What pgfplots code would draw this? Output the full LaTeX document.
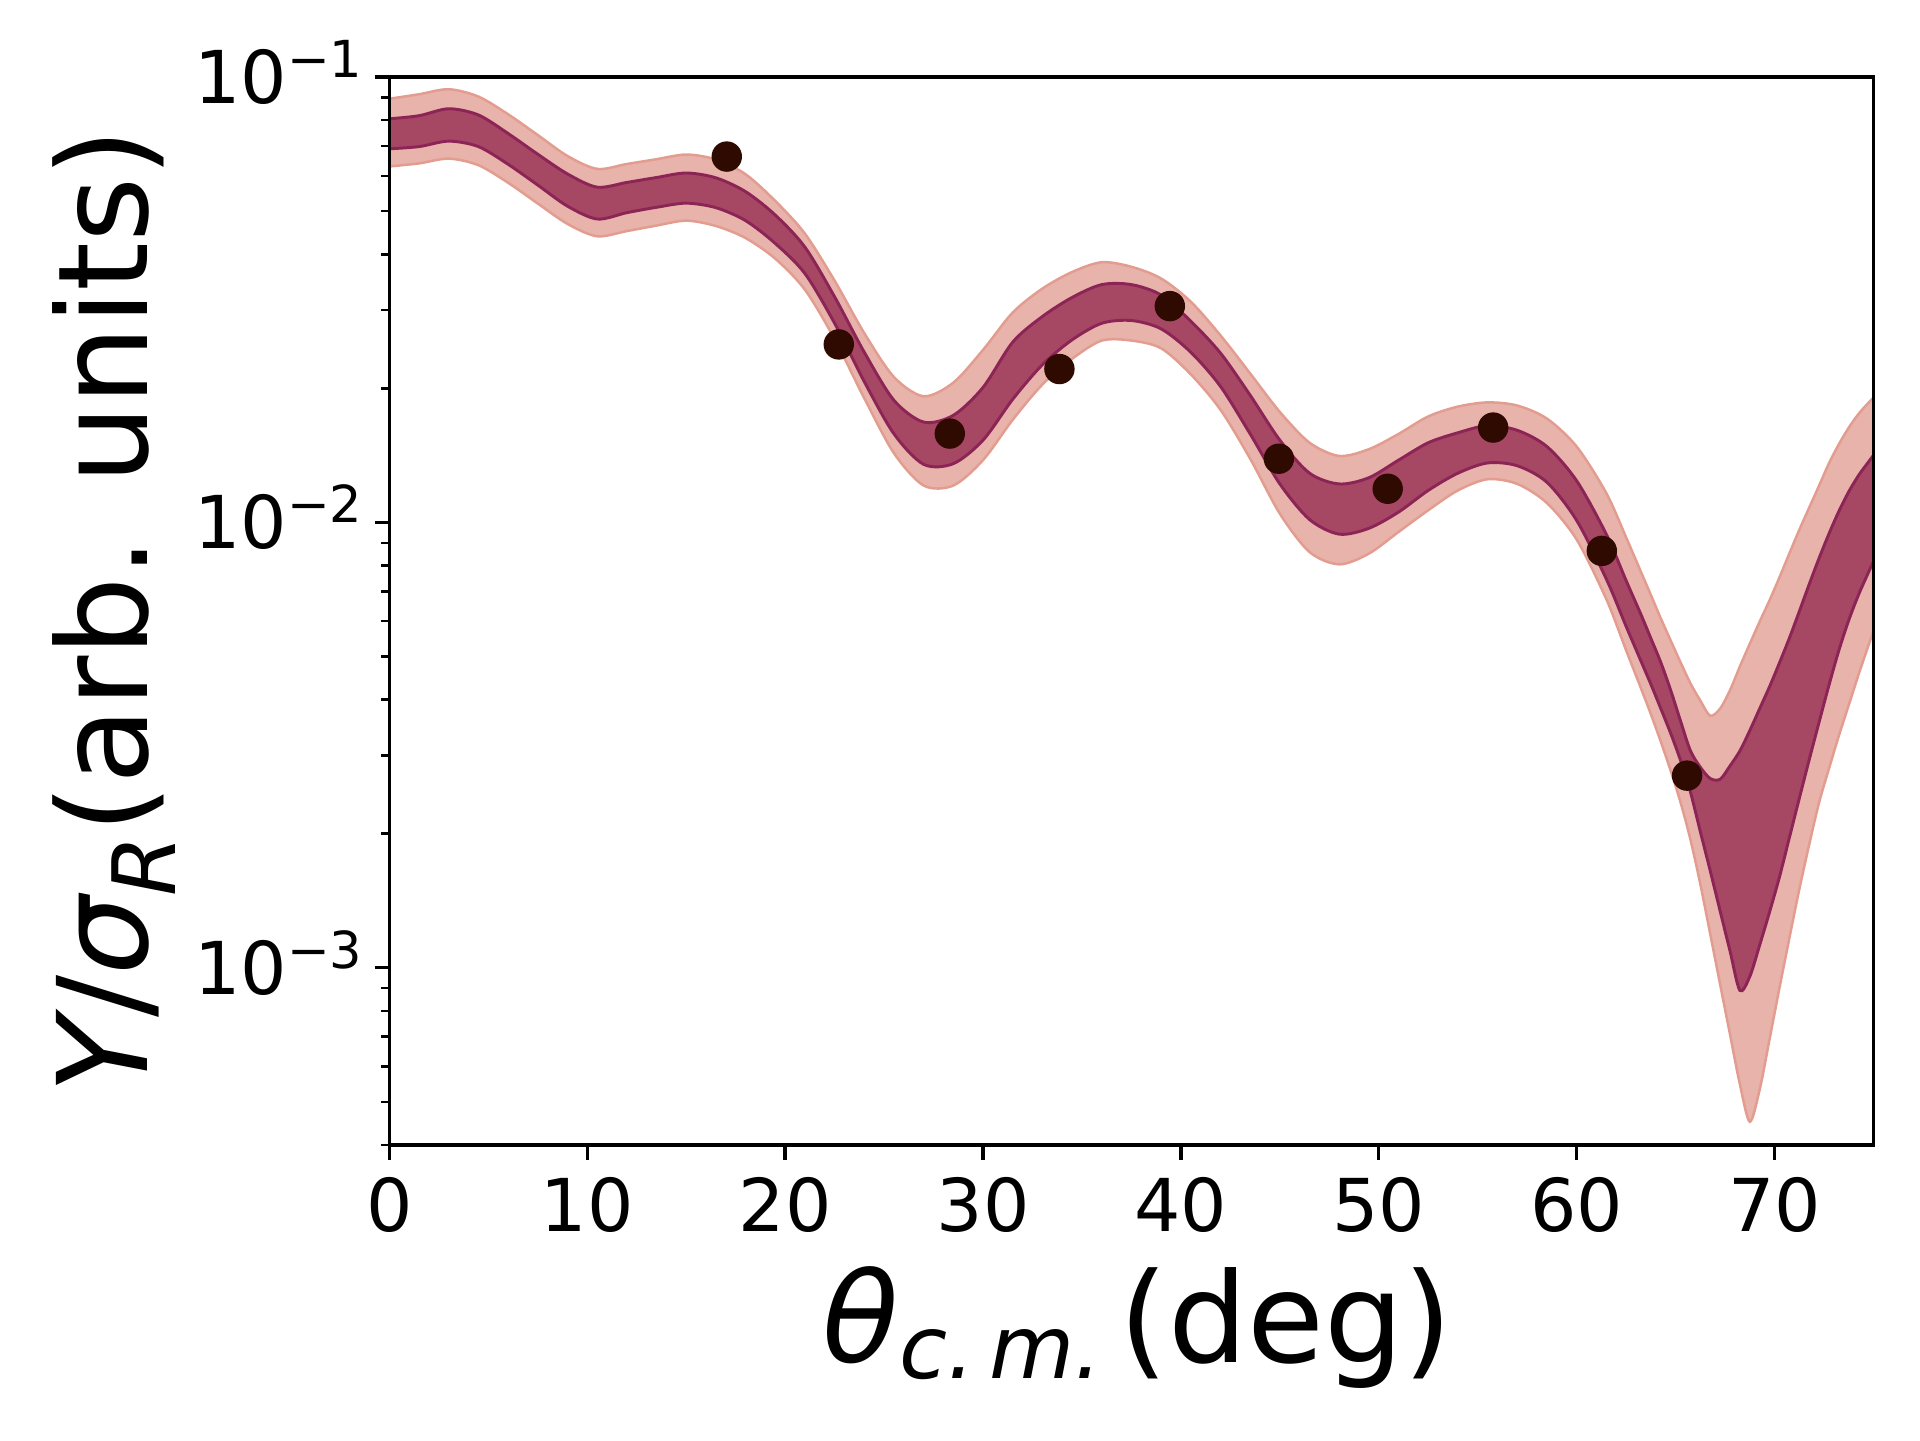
\documentclass[border=0pt]{standalone}
\usepackage{fontspec}
\setmainfont{DejaVu Sans}
\usepackage{pgfplots}
\pgfplotsset{compat=1.18}
\usepgfplotslibrary{fillbetween}
\usepackage{pgfplotstable}

\definecolor{lightband}{HTML}{E8B3AA}
\definecolor{lightedge}{HTML}{E39D90}
\definecolor{darkband}{HTML}{A64764}
\definecolor{darkedge}{HTML}{8C2456}
\definecolor{dotcol}{HTML}{2E0A00}

\pgfplotstableread{
x ou iu il ol
0 0.0894 0.0806 0.0690 0.0630
1.5 0.0915 0.0819 0.0698 0.0640
3.0 0.0939 0.0849 0.0718 0.0656
4.5 0.0904 0.0822 0.0698 0.0634
6.0 0.0825 0.0747 0.0637 0.0579
7.5 0.0741 0.0671 0.0572 0.0520
9.0 0.0665 0.0606 0.0513 0.0468
10.5 0.0622 0.0566 0.0480 0.0439
12.0 0.0638 0.0580 0.0496 0.0451
13.5 0.0654 0.0595 0.0510 0.0464
15.0 0.0670 0.0609 0.0521 0.0476
16.5 0.0653 0.0594 0.0509 0.0463
18.0 0.0605 0.0553 0.0476 0.0435
19.5 0.0527 0.0490 0.0423 0.0391
21.0 0.0445 0.0415 0.0362 0.0333
22.5 0.0349 0.0321 0.0280 0.0258
24.0 0.0266 0.0241 0.0207 0.0190
25.5 0.0212 0.0188 0.0158 0.0143
27.0 0.0192 0.0168 0.0135 0.0121
28.5 0.0206 0.0174 0.01355 0.0121
30.0 0.0244 0.0201 0.0153 0.0138
31.5 0.0296 0.0254 0.0189 0.0170
33.0 0.0335 0.0290 0.0226 0.0204
34.5 0.0365 0.0320 0.0257 0.0233
36.0 0.0384 0.0342 0.0280 0.0256
37.5 0.0375 0.0342 0.0284 0.0256
39.0 0.0353 0.0324 0.0272 0.0246
40.5 0.0313 0.0283 0.0241 0.0215
42.0 0.0263 0.0240 0.0202 0.0179
43.5 0.0216 0.0193 0.0158 0.0139
45.0 0.0177 0.0153 0.0122 0.01046
46.5 0.0151 0.0129 0.01015 0.00858
48.0 0.0141 0.0122 0.00941 0.00805
49.5 0.0146 0.0126 0.00970 0.00851
51.0 0.0158 0.0138 0.01055 0.00952
52.5 0.0173 0.0151 0.0118 0.01065
54.0 0.0182 0.0159 0.0129 0.0118
55.5 0.0186 0.0165 0.0136 0.0125
57.0 0.0183 0.0161 0.0134 0.0122
58.5 0.0171 0.0148 0.0123 0.01105
60.0 0.0148 0.0124 0.0101 0.00915
61.5 0.01163 0.00940 0.00746 0.00672
62.5 0.00925 0.00740 0.00584 0.00516
63.25 0.00774 0.00621 0.00488 0.00424
63.75 0.00687 0.00549 0.00433 0.00371
64.25 0.00609 0.00485 0.00382 0.00322
64.75 0.00543 0.00420 0.00336 0.00277
65.25 0.00485 0.00358 0.00292 0.00235
65.75 0.00435 0.00307 0.00248 0.00194
66.25 0.00398 0.00282 0.00202 0.00154
66.75 0.00368 0.00266 0.00165 0.00119
67.25 0.00382 0.00265 0.00134 0.000917
67.75 0.00420 0.00284 0.00109 0.000708
68.25 0.00475 0.00307 0.000889 0.000547
68.75 0.00534 0.00341 0.000956 0.000451
69.25 0.00599 0.00382 0.001125 0.000533
69.75 0.00669 0.00428 0.001335 0.000692
70.25 0.00753 0.00484 0.00160 0.000902
70.75 0.00852 0.00550 0.00196 0.001166
71.25 0.00962 0.00631 0.00240 0.00150
71.75 0.01079 0.00726 0.00293 0.00189
72.25 0.01209 0.00831 0.00356 0.00235
72.75 0.01358 0.00943 0.00431 0.00280
73.25 0.01498 0.01059 0.00516 0.00332
73.75 0.01632 0.01172 0.00603 0.00389
74.25 0.01754 0.01276 0.00689 0.00456
74.75 0.01857 0.01368 0.00773 0.00530
75.0 0.01905 0.01415 0.00818 0.00569
}\bands

\pgfplotstableread{
x y
17.05 0.0663
22.71 0.0251
28.32 0.01583
33.86 0.0221
39.44 0.0306
44.95 0.0139
50.45 0.0119
55.78 0.01633
61.27 0.00863
65.58 0.00270
}\points

\begin{document}
\begin{tikzpicture}
\begin{axis}[
  at={(0,0)}, anchor=south west,
  scale only axis, width=356.2pt, height=256.3pt,
  xmin=0, xmax=75, ymin=4e-4, ymax=0.1,
  ymode=log,
  axis on top,
  xtick={0,10,20,30,40,50,60,70},
  xticklabels={0,10,20,30,40,50,60,70},
  ytick={1e-3,1e-2,1e-1},
  yticklabels={10\textsuperscript{−3},10\textsuperscript{−2},10\textsuperscript{−1}},
  minor ytick={4e-4,5e-4,6e-4,7e-4,8e-4,9e-4,2e-3,3e-3,4e-3,5e-3,6e-3,7e-3,8e-3,9e-3,2e-2,3e-2,4e-2,5e-2,6e-2,7e-2,8e-2,9e-2},
  tick pos=left, tick align=outside,
  major tick length=3.5pt, minor tick length=2pt,
  every major tick/.append style={line width=0.8pt, black},
  every minor tick/.append style={line width=0.6pt, black},
  axis line style={line width=0.8pt},
  tick label style={font=\fontsize{17.5}{21}\selectfont},
  xticklabel style={anchor=north, inner sep=0pt, yshift=-4.2pt},
  yticklabel style={anchor=base east, inner sep=0pt, xshift=-2.3pt, yshift=-6.35pt},
  label style={font=\fontsize{30}{36}\selectfont},
  xlabel={\itshape θ\textsubscript{c.\,m.\,}\upshape(deg)},
  ylabel={\itshape Y\upshape/\itshape σ\textsubscript{R}\upshape(arb. units)},
  xlabel style={at={(axis description cs:0.5,0)}, anchor=base, yshift=-52.3pt, xshift=1.5pt},
  ylabel style={at={(axis description cs:-0.1631,0.5)}, anchor=base},
]
\addplot[draw=none, name path=ou, smooth] table[x=x, y=ou] {\bands};
\addplot[draw=none, name path=ol, smooth] table[x=x, y=ol] {\bands};
\addplot[draw=none, name path=iu, smooth] table[x=x, y=iu] {\bands};
\addplot[draw=none, name path=il, smooth] table[x=x, y=il] {\bands};
\addplot[lightband, draw=none] fill between[of=ou and ol];
\addplot[lightedge, line width=0.6pt, smooth] table[x=x, y=ou] {\bands};
\addplot[lightedge, line width=0.6pt, smooth] table[x=x, y=ol] {\bands};
\addplot[darkband, draw=none] fill between[of=iu and il];
\addplot[darkedge, line width=0.7pt, smooth] table[x=x, y=iu] {\bands};
\addplot[darkedge, line width=0.7pt, smooth] table[x=x, y=il] {\bands};
\addplot[only marks, mark=*, mark size=3.45pt, mark options={fill=dotcol, draw=dotcol}] table[x=x, y=y] {\points};
\end{axis}
\pgfresetboundingbox
\path[use as bounding box] (-93.46pt,-70.82pt) rectangle (367.36pt,274.8pt);
\end{tikzpicture}
\end{document}
